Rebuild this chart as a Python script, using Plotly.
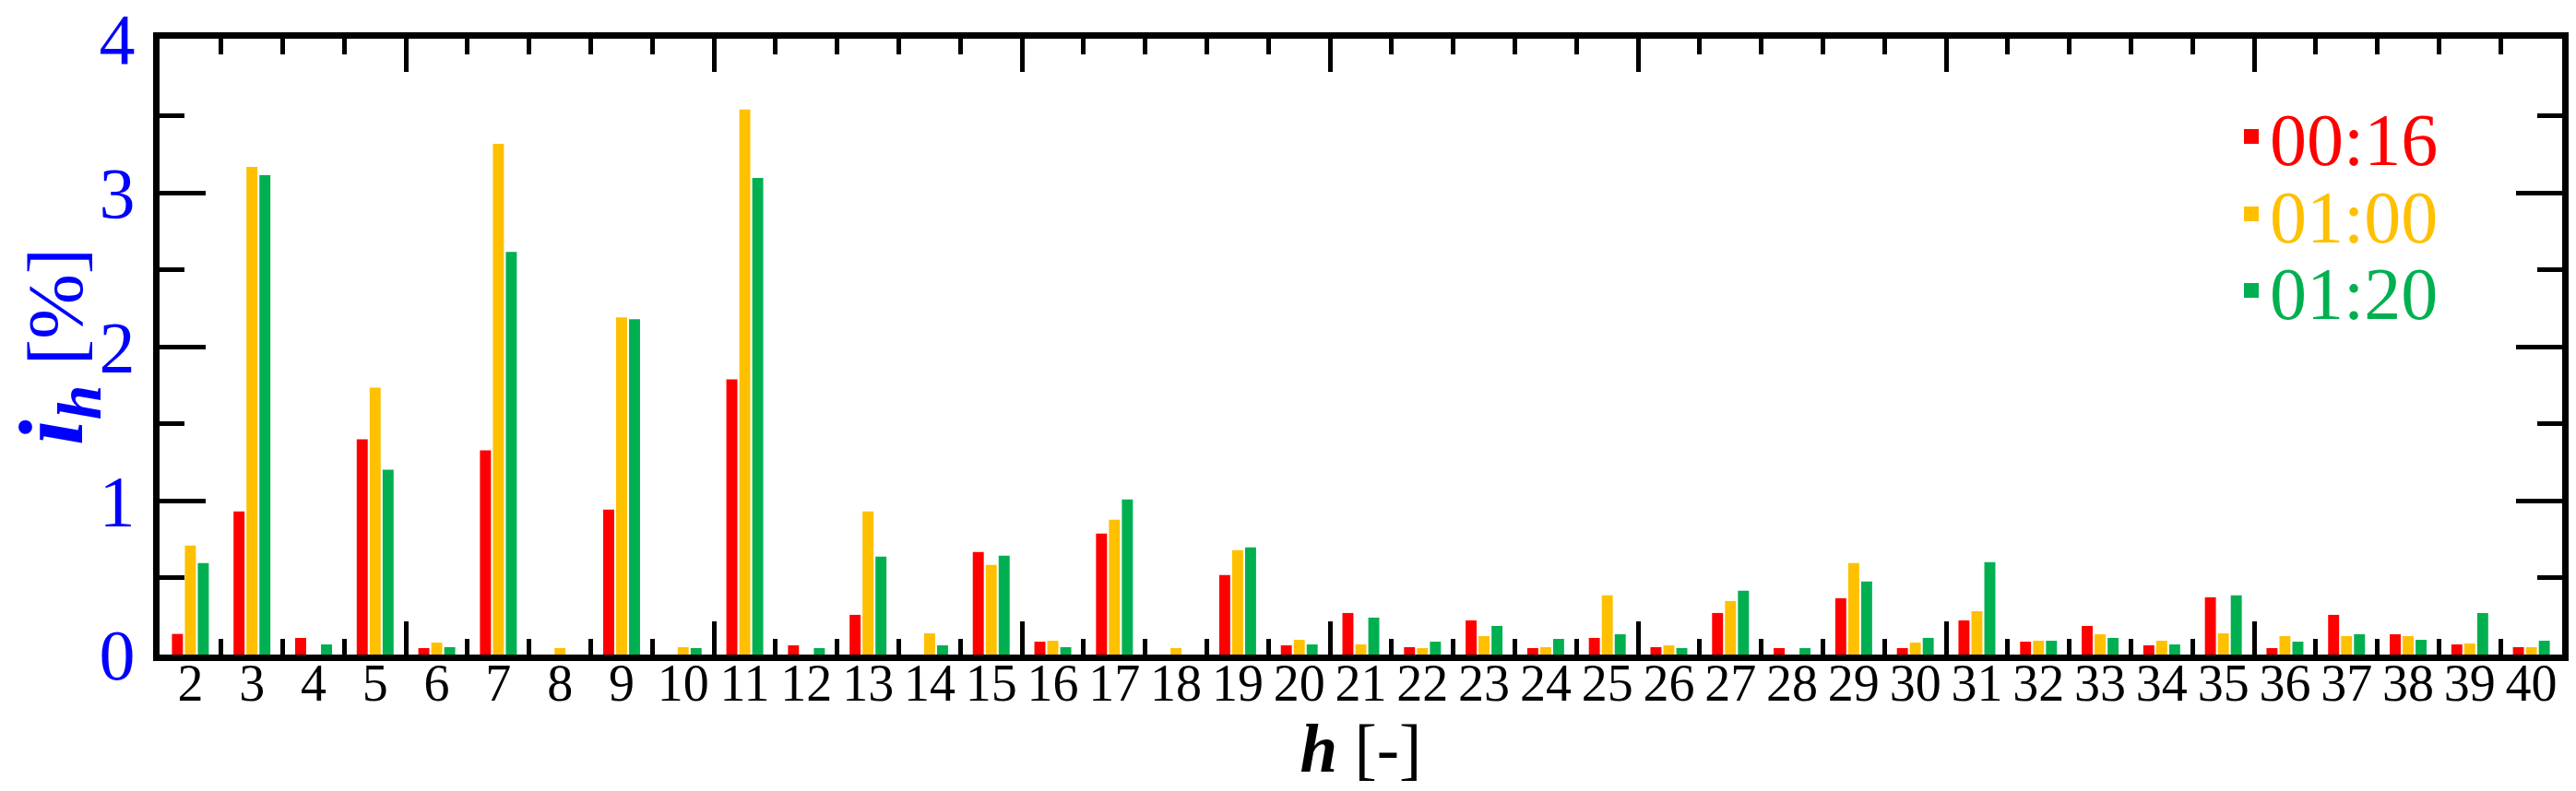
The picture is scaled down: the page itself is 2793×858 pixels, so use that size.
import plotly.graph_objects as go

harmonics = list(range(2, 41))
series_names = ["00:16", "01:00", "01:20"]
series_colors = ["#FF0000", "#FFC000", "#00B050"]

i_0016 = [0.134, 0.93, 0.108, 1.398, 0.042, 1.326, 0.0, 0.942, 0.0, 1.788,
          0.06, 0.258, 0.0, 0.666, 0.084, 0.786, 0.0, 0.516, 0.06, 0.27,
          0.048, 0.222, 0.042, 0.108, 0.048, 0.27, 0.042, 0.366, 0.042, 0.222,
          0.084, 0.186, 0.06, 0.372, 0.042, 0.258, 0.132, 0.066, 0.048]
i_0100 = [0.708, 3.168, 0.0, 1.734, 0.078, 3.318, 0.042, 2.19, 0.048, 3.54,
          0.0, 0.93, 0.138, 0.582, 0.09, 0.876, 0.042, 0.678, 0.096, 0.066,
          0.042, 0.12, 0.048, 0.384, 0.06, 0.348, 0.0, 0.594, 0.078, 0.282,
          0.09, 0.132, 0.09, 0.138, 0.12, 0.12, 0.12, 0.072, 0.048]
i_0120 = [0.594, 3.114, 0.066, 1.2, 0.048, 2.616, 0.0, 2.178, 0.042, 3.096,
          0.042, 0.636, 0.06, 0.642, 0.048, 1.008, 0.0, 0.696, 0.066, 0.24,
          0.084, 0.186, 0.102, 0.132, 0.042, 0.414, 0.042, 0.474, 0.108, 0.6,
          0.09, 0.108, 0.066, 0.384, 0.084, 0.132, 0.096, 0.27, 0.09]
series_values = [i_0016, i_0100, i_0120]

y_ticks = [0, 1, 2, 3, 4]
x_major_ticks = [5.5, 10.5, 15.5, 20.5, 25.5, 30.5, 35.5]
x_minor_ticks = [h + 0.5 for h in range(1, 40)]

SERIF = "Liberation Serif"
BLUE = "#0000FF"

fig = go.Figure()
legend_ids = ["legend", "legend2", "legend3"]
for name, color, vals, lid in zip(series_names, series_colors, series_values, legend_ids):
    fig.add_trace(go.Bar(
        x=harmonics, y=vals, name=name,
        marker=dict(color=color, line=dict(width=0)),
        showlegend=False, legendgroup=name,
    ))
    # legend-only entry (larger square swatch, coloured label)
    fig.add_trace(go.Scatter(
        x=[None], y=[None], mode="markers",
        marker=dict(symbol="square", size=18, color=color),
        name=f"<span style='color:{color}'>{name}</span>",
        legend=lid, legendgroup=name, hoverinfo="skip",
    ))

# invisible helper trace on overlay axis to host the tick marks
fig.add_trace(go.Scatter(x=[harmonics[0]], y=[0], xaxis="x2", mode="markers",
                         marker=dict(opacity=0), showlegend=False, hoverinfo="skip"))

W, H = 2793, 858
L, R, T, B = 173, 15, 42, 148

ytitle = ("<b><i><span style='font-size:100px'>i</span><sub>h</sub></i></b>"
          "<span style='font-size:85px'> [%]</span>")

fig.update_layout(
    width=W, height=H,
    margin=dict(l=L, r=R, t=T, b=B, autoexpand=False),
    paper_bgcolor="white", plot_bgcolor="white",
    barmode="group", bargap=0.37, bargroupgap=0.15,
    font=dict(family=SERIF, color="black"),
    xaxis=dict(
        range=[1.5, 40.5], tickmode="array", tickvals=harmonics,
        ticktext=[str(h) for h in harmonics], automargin=False,
        ticks="", showgrid=False, zeroline=False,
        showline=True, linecolor="black", linewidth=7, mirror=True,
        tickfont=dict(family=SERIF, size=56, color="black"),
        ticklabelstandoff=-24,
        title=dict(text="<b><i>h</i></b> [-]", font=dict(family=SERIF, size=73, color="black"),
                   standoff=0),
    ),
    xaxis2=dict(
        overlaying="x", matches="x", range=[1.5, 40.5], side="bottom",
        automargin=False,
        tickmode="array", tickvals=x_major_ticks, ticks="inside", ticklen=36,
        tickwidth=5, tickcolor="black", showticklabels=False,
        showgrid=False, zeroline=False, showline=False, mirror="allticks",
        minor=dict(tickmode="array", tickvals=x_minor_ticks, ticks="inside",
                   ticklen=17, tickwidth=5, tickcolor="black", showgrid=False),
    ),
    yaxis=dict(
        range=[0, 4], tickmode="array", tickvals=y_ticks, automargin=False,
        ticks="inside", ticklen=50, tickwidth=5, tickcolor="black",
        minor=dict(dtick=0.5, ticks="inside", ticklen=27, tickwidth=5,
                   tickcolor="black", showgrid=False),
        showgrid=False, zeroline=False,
        showline=True, linecolor="black", linewidth=7, mirror="ticks",
        tickfont=dict(family=SERIF, size=78, color=BLUE),
        ticklabelstandoff=4, ticklabeloverflow="allow",
        title=dict(text=ytitle, font=dict(family=SERIF, size=97, color=BLUE), standoff=6),
    ),
)

leg_rows = [148, 232, 315]
for lid, yrow in zip(legend_ids, leg_rows):
    fig.update_layout({lid: dict(
        x=(2421 - L) / (W - L - R), xanchor="left",
        y=(H - B - yrow) / (H - T - B), yanchor="middle",
        bgcolor="rgba(0,0,0,0)", borderwidth=0,
        font=dict(family=SERIF, size=80),
    )})

fig.write_html("out.html", config={"displayModeBar": False},
               post_script="document.body.style.margin='0';")
